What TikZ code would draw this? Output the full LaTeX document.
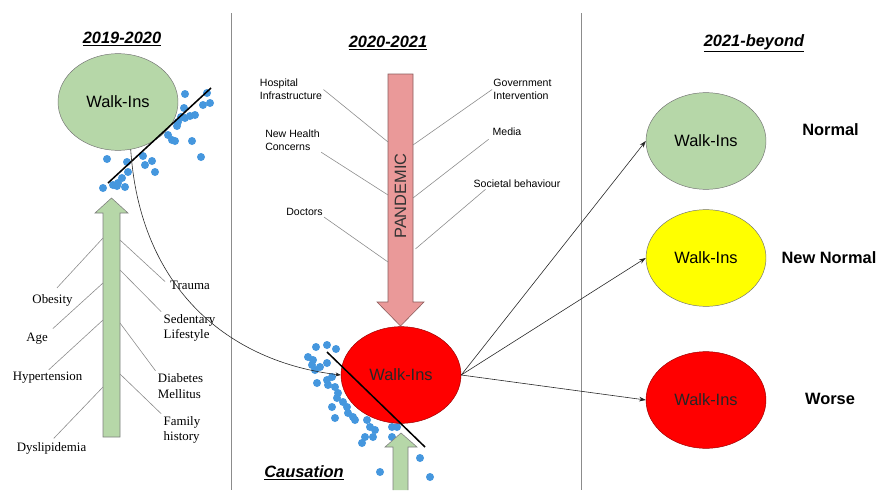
\documentclass[tikz,border=0pt]{standalone}
\usepackage{fontspec}
\setmainfont{Liberation Serif}
\setsansfont{Liberation Sans}
\usepackage{tikz}
\usetikzlibrary{arrows.meta,shapes.geometric,calc}
\definecolor{walkgreen}{HTML}{B6D7A8}
\definecolor{walkyellow}{HTML}{FFFF00}
\definecolor{walkred}{HTML}{FF0000}
\definecolor{pandpink}{HTML}{EA9999}
\definecolor{dotblue}{HTML}{4597DE}
\definecolor{rulegray}{HTML}{8C8C8C}
\tikzset{
  % Walk-in bubbles
  walk/.style={ellipse,draw=black!55,thin,minimum width=36mm,minimum height=29mm,
               inner sep=0pt,font=\sffamily\fontsize{14}{16}\selectfont},
  % Period headings and outcome labels
  period/.style={font=\sffamily\bfseries\itshape\fontsize{14}{16}\selectfont,inner sep=1pt},
  outc/.style={font=\sffamily\bfseries\fontsize{14}{16}\selectfont,inner sep=1pt},
  % Fishbone factors
  riskf/.style={font=\rmfamily\fontsize{11}{13.5}\selectfont,align=left,inner sep=1pt},
  pandf/.style={font=\sffamily\fontsize{9}{11}\selectfont,align=left,inner sep=1pt},
  % Lines
  bone/.style={draw=black!45,line width=0.5pt},
  trend/.style={draw=black,line width=1.3pt},
  divider/.style={draw=rulegray,line width=0.6pt},
  fl/.style={-{Stealth[length=2mm,width=1.4mm]},black!85,line width=0.5pt},
  blockg/.style={fill=walkgreen,draw=black!50,line width=0.5pt},
  blockp/.style={fill=pandpink,draw=pandpink!60!black,line width=0.5pt}
}

\begin{document}
\begin{tikzpicture}[x=0.3mm,y=-0.3mm]
  \fill[white] (0,0) rectangle (881,490);
  \useasboundingbox (0,0) rectangle (881,490);

  % column dividers
  \coordinate (d1t) at (231,13);
  \coordinate (d1b) at (231,490);
  \coordinate (d2t) at (581,13);
  \coordinate (d2b) at (581,490);
  \draw[divider] (d1t) -- (d1b);
  \draw[divider] (d2t) -- (d2b);

  % headings
  \node[period] (h1) at (122,39) {\underline{2019-2020}};
  \node[period] (h2) at (388,43) {\underline{2020-2021}};
  \node[period] (h3) at (754,43) {\underline{2021-beyond}};
  \node[period] (caus) at (304,473) {\underline{Causation}};

  % scatter, 2019-2020
  \foreach \p in {(185,94),(207,93),(210,103),(203,105),(184,108),(195,115),(190,116),
                  (185,118),(181,117),(178,122),(177,126),(168,135),(172,140),(175,141),
                  (192,141),(201,157),(107,159),(127,162),(143,156),(152,161),(145,165),
                  (155,172),(128,172),(122,178),(118,183),(113,185),(103,188),(125,187),(117,186)}
    \fill[dotblue] \p circle[radius=1.2mm];

  % scatter, 2020-2021
  \foreach \p in {(327,345),(316,347),(336,349),(308,357),(313,360),(312,365),(315,370),
                  (320,367),(327,363),(317,383),(327,380),(328,385),(332,377),(335,387),
                  (338,393),(337,398),(332,407),(343,402),(347,407),(348,413),(335,418),
                  (353,417),(355,420),(367,420),(370,427),(375,430),(365,437),(362,443),
                  (373,437),(392,427),(397,427),(392,437),(420,458),(380,472),(430,477)}
    \fill[dotblue] \p circle[radius=1.2mm];

  % walk-in bubbles
  \node[walk,fill=walkgreen] (w19) at (118,102) {Walk-Ins};
  \node[walk,fill=walkred,draw=red!60!black,text=black!85] (w20) at (401,375) {Walk-Ins};
  \node[walk,fill=walkgreen] (wnorm) at (706,141) {Walk-Ins};
  \node[walk,fill=walkyellow] (wnew) at (706,258) {Walk-Ins};
  \node[walk,fill=walkred,draw=red!60!black,text=black!85] (wworse) at (706,400) {Walk-Ins};

  % trend lines
  \coordinate (t1a) at (108,183);
  \coordinate (t1b) at (211,88);
  \coordinate (t2a) at (327,352);
  \coordinate (t2b) at (425,447);
  \draw[trend] (t1a) -- (t1b);
  \draw[trend] (t2a) -- (t2b);

  % risk factor arrow
  \draw[blockg] (103,437) -- (103,213) -- (95,213) -- (111.5,198) -- (128,213)
                -- (120,213) -- (120,437) -- cycle;
  \coordinate (gL1) at (103,238);
  \coordinate (gL2) at (103,283);
  \coordinate (gL3) at (103,320);
  \coordinate (gL4) at (103,387);
  \coordinate (gR1) at (120,240);
  \coordinate (gR2) at (120,270);
  \coordinate (gR3) at (120,323);
  \coordinate (gR4) at (120,374);

  \node[riskf] (obes) at (52.5,300) {Obesity};
  \node[riskf] (age) at (37,339) {Age};
  \node[riskf] (hyper) at (47.5,378) {Hypertension};
  \node[riskf] (dysl) at (51.5,448) {Dyslipidemia};
  \node[riskf] (traum) at (190,285) {Trauma};
  \node[riskf] (sedl) at (189.5,328) {Sedentary\\Lifestyle};
  \node[riskf] (diab) at (180.5,386) {Diabetes\\Mellitus};
  \node[riskf] (famh) at (182,430) {Family\\history};

  \draw[bone,shorten >=2mm] (gL1) -- (obes.north);
  \draw[bone,shorten >=1.5mm] (gL2) -- (age.north east);
  \draw[bone,shorten >=0.5mm] (gL3) -- (hyper.north);
  \draw[bone,shorten >=1mm] (gL4) -- (dysl.north);
  \draw[bone,shorten >=1.5mm] (gR1) -- (traum.west);
  \draw[bone,shorten >=0.5mm] (gR2) -- (sedl.north west);
  \draw[bone,shorten >=0.5mm] (gR3) -- (diab.north west);
  \draw[bone,shorten >=0.5mm] (gR4) -- (famh.north west);

  % pandemic arrow
  \draw[blockp] (388,74) -- (413,74) -- (413,302) -- (424,302) -- (400.5,326)
                -- (377,302) -- (388,302) -- cycle;
  \node[rotate=90,font=\sffamily\fontsize{14}{16}\selectfont,text=black!80] (pand) at (400.5,196) {PANDEMIC};
  \coordinate (pL1) at (388,142);
  \coordinate (pL2) at (388,195);
  \coordinate (pL3) at (388,262);
  \coordinate (pR1) at (413,145);
  \coordinate (pR2) at (413,198);
  \coordinate (pR3) at (413,251);

  \node[pandf] (hosp) at (291,89.5) {Hospital\\Infrastructure};
  \node[pandf] (newh) at (292.5,140.5) {New Health\\Concerns};
  \node[pandf] (doct) at (304.5,212) {Doctors};
  \node[pandf] (govt) at (522.5,89.5) {Government\\Intervention};
  \node[pandf] (medi) at (507,132) {Media};
  \node[pandf] (soci) at (517,184) {Societal behaviour};

  \draw[bone] (hosp.east) -- (pL1);
  \draw[bone] (newh.south east) -- (pL2);
  \draw[bone] (doct.south east) -- (pL3);
  \draw[bone] (pR1) -- (govt.west);
  \draw[bone,shorten >=1mm] (pR2) -- (medi.south west);
  \draw[bone,shorten >=1mm] ([xshift=4mm]soci.south west) -- (pR3);

  % causation arrow (runs off the page)
  \fill[walkgreen] (393,490) -- (393,447) -- (385,447) -- (401,433) -- (417,447)
                   -- (408,447) -- (408,490) -- cycle;
  \draw[black!50,line width=0.5pt] (393,490) -- (393,447) -- (385,447) -- (401,433)
                   -- (417,447) -- (408,447) -- (408,490);

  % flows
  \draw[fl,-{Stealth[length=1.6mm,width=1.2mm]}] (w19.-75) .. controls (140,290) and (230,362) .. (w20.west);
  \draw[fl] (w20.east) -- (wnorm.west);
  \draw[fl] (w20.east) -- (wnew.west);
  \draw[fl] (w20.east) -- (wworse.west);

  % outcomes
  \node[outc] (onorm) at (830.5,130) {Normal};
  \node[outc] (onew) at (829,258) {New Normal};
  \node[outc] (owor) at (830,399) {Worse};
\end{tikzpicture}
\end{document}
